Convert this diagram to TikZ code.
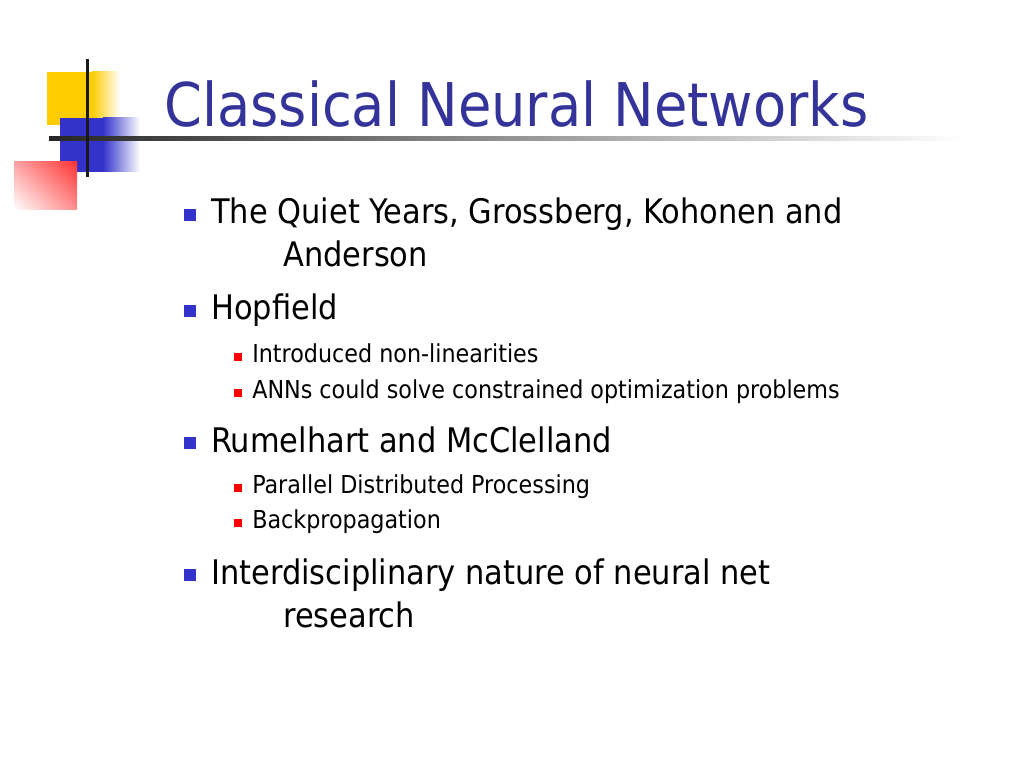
\documentclass[tikz,border=0pt]{standalone}
\usepackage{fontspec}
\setmainfont{DejaVu Sans Condensed}
\usetikzlibrary{positioning}
\usetikzlibrary{shadings}
\definecolor{titleblue}{RGB}{51,51,153}
\definecolor{boxblue}{RGB}{51,51,204}
\definecolor{boxyellow}{RGB}{255,204,0}
\definecolor{boxred}{RGB}{255,51,51}
\tikzset{title/.style = {anchor = base west, inner sep = 0, text = titleblue,
                         font = \fontsize{42.4}{50}\selectfont}}
\tikzset{main/.style = {anchor = base west, inner sep = 0,
                        font = \fontsize{23.8}{28}\selectfont}}
\tikzset{sub/.style = {anchor = base west, inner sep = 0,
                       font = \fontsize{17.4}{21}\selectfont}}
\tikzset{bigdot/.style = {fill = boxblue, inner sep = 0, minimum size = 9}}
\tikzset{smalldot/.style = {fill = red, inner sep = 0, minimum size = 5.8}}

\begin{document}
\begin{tikzpicture}[x = 0.703125pt, y = -0.703125pt]
      \useasboundingbox (0, 0) rectangle (1024, 768);

      \fill [boxyellow] (47, 72) rectangle (92, 125);
      \shade [left color = boxyellow, right color = white] (92, 72) rectangle (120, 125);
      \fill [boxblue] (60, 118) rectangle (103, 172);
      \shade [left color = boxblue, right color = white] (103, 118) rectangle (140, 172);
      \shade [lower left = white, upper right = boxred, upper left = boxred!45!white,
              lower right = boxred!55!white] (14, 162) rectangle (77, 210);
      \shade [left color = black!85, right color = white] (49, 137) rectangle (965, 141);
      \fill [black!90] (85.5, 59) rectangle (88.5, 177);

      \node [title] (head) at (164, 127) {Classical Neural Networks};

      \node [bigdot] (d1) at (190, 215) {};
      \node [main] (quiet) at (211, 224) {The Quiet Years, Grossberg, Kohonen and};
      \node [main] (quiet2) at (283, 267) {Anderson};

      \node [bigdot] (d2) at (190, 311) {};
      \node [main] (hop) at (211, 320) {Hopfield};
      \node [smalldot] (s1) at (238, 357) {};
      \node [sub] (nonlin) at (252, 362) {Introduced non-linearities};
      \node [smalldot] (s2) at (238, 393) {};
      \node [sub] (anns) at (252, 398) {ANNs could solve constrained optimization problems};

      \node [bigdot] (d3) at (190, 443) {};
      \node [main] (rum) at (211, 452) {Rumelhart and McClelland};
      \node [smalldot] (s3) at (238, 488) {};
      \node [sub] (pdp) at (252, 493) {Parallel Distributed Processing};
      \node [smalldot] (s4) at (238, 523) {};
      \node [sub] (backprop) at (252, 528) {Backpropagation};

      \node [bigdot] (d4) at (190, 575) {};
      \node [main] (inter) at (211, 584) {Interdisciplinary nature of neural net};
      \node [main] (inter2) at (283, 627) {research};
    \end{tikzpicture}
\end{document}
